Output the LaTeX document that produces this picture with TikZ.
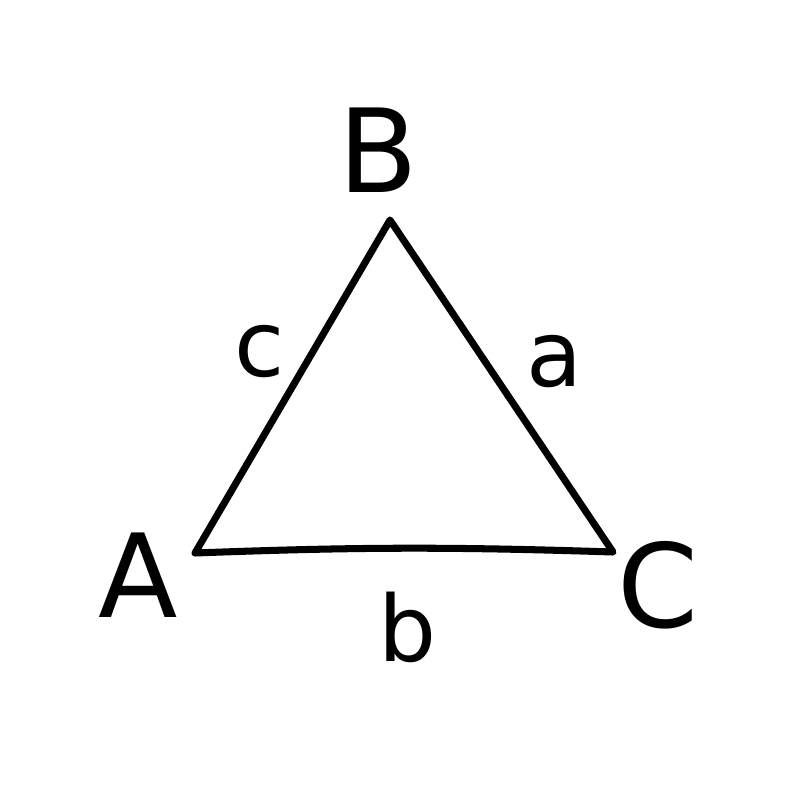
\documentclass[tikz,border=0pt]{standalone}
\usepackage{fontspec}
\setsansfont{DejaVu Sans}
\usetikzlibrary{positioning}
\tikzset{
  edge/.style={draw=black, line width=2pt, line join=round, line cap=round},
  vertexlabel/.style={inner sep=0pt, font=\sffamily\fontsize{33}{40}\selectfont},
  sidelabel/.style={inner sep=0pt, font=\sffamily\fontsize{26}{32}\selectfont}
}
\begin{document}
\begin{tikzpicture}[x=0.01cm, y=-0.01cm]
\useasboundingbox (0,0) rectangle (800,800);
% corners of the triangle
\coordinate (A) at (195,553);
\coordinate (B) at (390,220);
\coordinate (C) at (613,552);
\draw[edge] (A) -- (B) -- (C) to[bend right=2] (A);
% corner names
\node[vertexlabel] (labB) at (378,150) {B};
\node[vertexlabel] (labA) at (138,575) {A};
\node[vertexlabel] (labC) at (658,585) {C};
% side names
\node[sidelabel] (labc) at (260,352) {c};
\node[sidelabel] (laba) at (555,362) {a};
\node[sidelabel] (labb) at (408,627) {b};
\end{tikzpicture}
\end{document}
